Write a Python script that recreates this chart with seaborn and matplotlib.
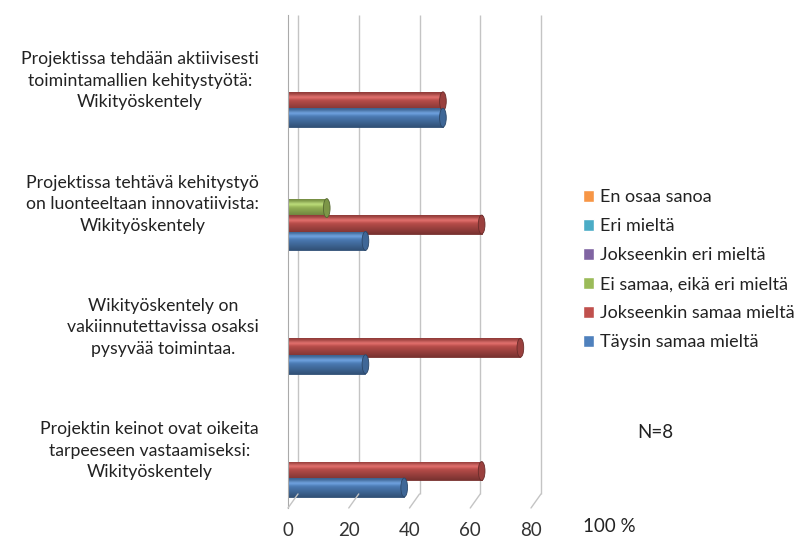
"""
Survey bar chart: Wikityöskentely evaluations (N=8)
"""

import numpy as np
import pandas as pd
import matplotlib
matplotlib.use('Agg')
import matplotlib.pyplot as plt
import matplotlib.colors as mcolors
from matplotlib.patches import Ellipse
from matplotlib.transforms import ScaledTranslation
import seaborn as sns

# --- data -------------------------------------------------------------
categories = [
    'Projektissa tehdään aktiivisesti\ntoimintamallien kehitystyötä:\nWikityöskentely',
    'Projektissa tehtävä kehitystyö\non luonteeltaan innovatiivista:\nWikityöskentely',
    'Wikityöskentely on\nvakiinnutettavissa osaksi\npysyvää toimintaa.',
    'Projektin keinot ovat oikeita\ntarpeeseen vastaamiseksi:\nWikityöskentely',
]
series = [
    'En osaa sanoa',
    'Eri mieltä',
    'Jokseenkin eri mieltä',
    'Ei samaa, eikä eri mieltä',
    'Jokseenkin samaa mieltä',
    'Täysin samaa mieltä',
]
en_osaa = [0, 0, 0, 0]
eri = [0, 0, 0, 0]
jok_eri = [0, 0, 0, 0]
ei_samaa = [0, 12.5, 0, 0]
jok_samaa = [50, 62.5, 75, 62.5]
taysin = [50, 25, 25, 37.5]
colors = ['#F79646', '#4BACC6', '#8064A2', '#9BBB59', '#C0504D', '#4F81BD']
xticks = [0, 20, 40, 60, 80]

values = [en_osaa, eri, jok_eri, ei_samaa, jok_samaa, taysin]
df = pd.DataFrame([
    {'kategoria': c, 'sarja': s, 'arvo': v[i]}
    for s, v in zip(series, values)
    for i, c in enumerate(categories)
])

# --- plot -------------------------------------------------------------
sns.set_style('white')
plt.rcParams['font.family'] = ['Lato', 'DejaVu Sans']

fig = plt.figure(figsize=(8.06, 5.42), dpi=100)
ax = fig.add_axes([288 / 806, 34 / 542, 243 / 806, 493 / 542])

sns.barplot(data=df, y='kategoria', x='arvo', hue='sarja', order=categories,
            hue_order=series, palette=colors, orient='y', width=0.8,
            saturation=1, ax=ax, legend=True)

# cylinder look: gradient fill + end cap
for patch in ax.patches:
    w = patch.get_width()
    if w <= 0:
        continue
    x0, y0 = patch.get_x(), patch.get_y()
    h = patch.get_height()
    # slightly fatter bars, like the original
    y0 -= 0.01
    h += 0.02
    patch.set_y(y0)
    patch.set_height(h)
    w *= 1.02
    patch.set_width(w)
    base = np.array(mcolors.to_rgb(patch.get_facecolor()))
    t = np.linspace(0, 1, 40)
    shade = np.where(t < 0.3, 0.75 + 0.9 * t, 1.02 - 0.55 * (t - 0.3))
    grad = np.clip(base[None, :] * shade[:, None] + 0.12 * np.exp(-((t - 0.25) / 0.12) ** 2)[:, None], 0, 1)
    img = ax.imshow(grad[:, None, :], extent=(x0, x0 + w, y0, y0 + h), origin='lower',
                    aspect='auto', zorder=2)
    img.set_clip_path(patch)
    patch.set_edgecolor(base * 0.6)
    patch.set_linewidth(0.6)
    cap = Ellipse((x0 + w, y0 + h / 2), width=2.2, height=h, facecolor=base * 0.8,
                  edgecolor=base * 0.55, linewidth=0.6, zorder=3)
    ax.add_patch(cap)

ax.set_xlim(0, 80)
ax.set_ylim(3.5, -0.5)
ax.set_xticks(xticks)
ax.set_xticklabels([str(t) for t in xticks], fontsize=13.5, color='#333333')
ax.set_xlabel('')
ax.set_ylabel('')
ax.tick_params(axis='x', length=0, pad=10)

# category labels at band centres, tick marks at band borders
ax.set_yticks(range(len(categories)))
ax.set_yticklabels(categories, fontsize=12.7, color='#222222')
for lab in ax.get_yticklabels():
    lab.set_multialignment('center')
    lab.set_linespacing(1.42)
ax.tick_params(axis='y', which='major', length=0, pad=21)
ax.set_yticks(np.arange(-0.5, len(categories)), minor=True)
ax.tick_params(axis='y', which='minor', length=5, color='#AAAAAA', width=1)

for s in ['top', 'right', 'bottom']:
    ax.spines[s].set_visible(False)
ax.spines['left'].set_color('#AAAAAA')

# back-wall gridlines shifted like the 3D original
shift = ax.get_xaxis_transform() + ScaledTranslation(10 / 100, 14 / 100, fig.dpi_scale_trans)
ax.vlines(xticks, 0, 1 - 14 / 493, transform=shift, color='#C4C4C4', lw=1, zorder=0, clip_on=False)
for t in xticks:
    ax.annotate('', xy=(t, 0), xycoords=ax.get_xaxis_transform(), xytext=(7.2, 10.1),
                textcoords='offset points', annotation_clip=False,
                arrowprops=dict(arrowstyle='-', color='#C4C4C4', lw=1, shrinkA=0, shrinkB=0))

# legend
handles, labels = ax.get_legend_handles_labels()
leg = ax.legend(handles, labels, loc='upper left', bbox_to_anchor=(567 / 806, 1 - 173 / 542),
                bbox_transform=fig.transFigure, frameon=False, fontsize=13,
                handlelength=0.6, handleheight=0.6, handletextpad=0.3, labelspacing=0.72)
for txt in leg.get_texts():
    txt.set_color('#222222')

fig.text(637 / 806, 1 - 432 / 542, 'N=8', fontsize=13.5, color='#222222', va='center')
fig.text(583 / 806, 1 - 527 / 542, '100 %', fontsize=13.5, color='#222222', va='center')

fig.savefig('out.png', dpi=100)
